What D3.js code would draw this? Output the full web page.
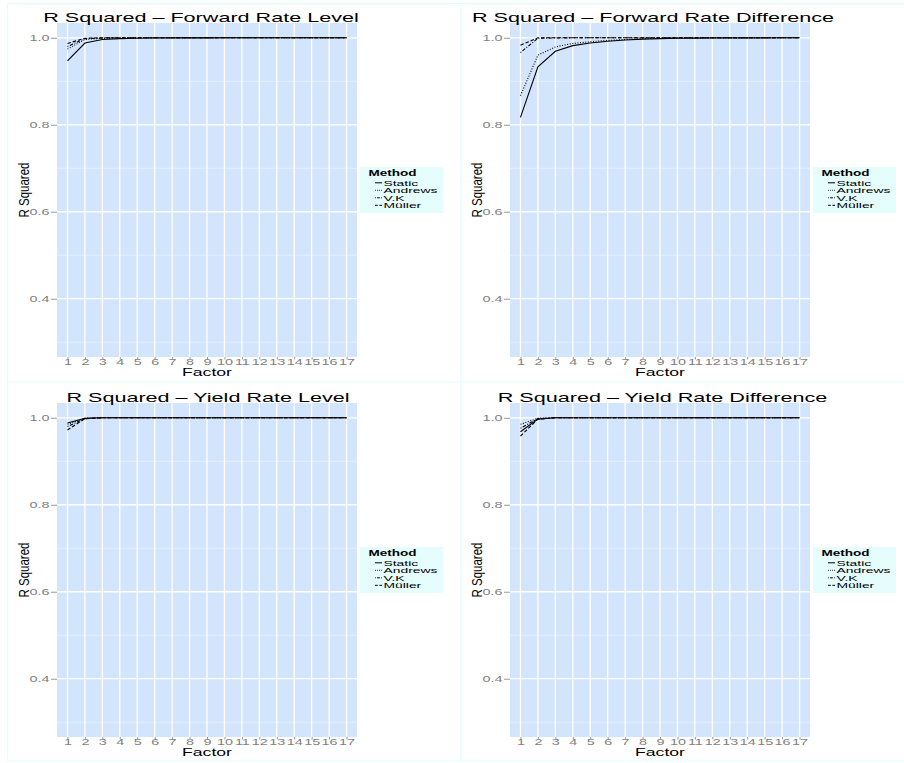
<!DOCTYPE html>
<html>
<head>
<meta charset="utf-8">
<script src="https://cdn.jsdelivr.net/npm/d3@7"></script>
<style>
  html, body { margin: 0; padding: 0; background: #ffffff; }
  svg { display: block; }
  text { font-family: "Liberation Sans", Arial, Helvetica, sans-serif; }
</style>
</head>
<body>
<svg id="chart" width="904" height="763"></svg>
<script>
// ---- data ----
const factorLabels = ["1","2","3","4","5","6","7","8","9","10","11","12","13","14","15","16","17"];
const methods = ["Static", "Andrews", "V.K", "Müller"];
const panelTitles = [
  "R Squared – Forward Rate Level",
  "R Squared – Forward Rate Difference",
  "R Squared – Yield Rate Level",
  "R Squared – Yield Rate Difference"
];
const yTicks = [0.4, 0.6, 0.8, 1.0];
const yMinorTicks = [0.3, 0.5, 0.7, 0.9];

// Forward rate level
const fwdLevelStatic  = [0.947, 0.988, 0.996, 0.998, 0.999, 0.9995, 0.9997, 0.9998, 0.9999, 1, 1, 1, 1, 1, 1, 1, 1];
const fwdLevelAndrews = [0.974, 0.996, 0.999, 0.9995, 1, 1, 1, 1, 1, 1, 1, 1, 1, 1, 1, 1, 1];
const fwdLevelVK      = [0.980, 0.998, 0.9995, 1, 1, 1, 1, 1, 1, 1, 1, 1, 1, 1, 1, 1, 1];
const fwdLevelMuller  = [0.987, 0.999, 1, 1, 1, 1, 1, 1, 1, 1, 1, 1, 1, 1, 1, 1, 1];

// Forward rate difference
const fwdDiffStatic  = [0.817, 0.933, 0.969, 0.982, 0.988, 0.992, 0.995, 0.997, 0.998, 0.999, 0.9993, 0.9995, 0.9997, 0.9998, 0.9999, 1, 1];
const fwdDiffAndrews = [0.867, 0.960, 0.979, 0.987, 0.991, 0.994, 0.996, 0.998, 0.999, 0.9993, 0.9995, 0.9997, 0.9998, 0.9999, 1, 1, 1];
const fwdDiffVK      = [0.966, 0.999, 0.9995, 1, 1, 1, 1, 1, 1, 1, 1, 1, 1, 1, 1, 1, 1];
const fwdDiffMuller  = [0.983, 1.000, 1, 1, 1, 1, 1, 1, 1, 1, 1, 1, 1, 1, 1, 1, 1];

// Yield rate level
const yldLevelStatic  = [0.988, 0.999, 1, 1, 1, 1, 1, 1, 1, 1, 1, 1, 1, 1, 1, 1, 1];
const yldLevelAndrews = [0.985, 0.999, 1, 1, 1, 1, 1, 1, 1, 1, 1, 1, 1, 1, 1, 1, 1];
const yldLevelVK      = [0.980, 0.998, 1, 1, 1, 1, 1, 1, 1, 1, 1, 1, 1, 1, 1, 1, 1];
const yldLevelMuller  = [0.972, 0.998, 1, 1, 1, 1, 1, 1, 1, 1, 1, 1, 1, 1, 1, 1, 1];

// Yield rate difference
const yldDiffStatic  = [0.968, 0.997, 1, 1, 1, 1, 1, 1, 1, 1, 1, 1, 1, 1, 1, 1, 1];
const yldDiffAndrews = [0.985, 0.999, 1, 1, 1, 1, 1, 1, 1, 1, 1, 1, 1, 1, 1, 1, 1];
const yldDiffVK      = [0.976, 0.998, 1, 1, 1, 1, 1, 1, 1, 1, 1, 1, 1, 1, 1, 1, 1];
const yldDiffMuller  = [0.958, 0.997, 1, 1, 1, 1, 1, 1, 1, 1, 1, 1, 1, 1, 1, 1, 1];

const panelSeries = [
  [fwdLevelStatic, fwdLevelAndrews, fwdLevelVK, fwdLevelMuller],
  [fwdDiffStatic, fwdDiffAndrews, fwdDiffVK, fwdDiffMuller],
  [yldLevelStatic, yldLevelAndrews, yldLevelVK, yldLevelMuller],
  [yldDiffStatic, yldDiffAndrews, yldDiffVK, yldDiffMuller]
];

// ---- styling / layout ----
const dashes = { "Static": null, "Andrews": "1,1.6", "V.K": "1,1.6,3.5,1.6", "Müller": "3.5,2" };
const panelBg = "#d3e4fd";
const tickGrey = "#7f7f7f";
const borderCol = "#e2fdfd";
const legendBg = "#e6fdfd";
const SX = 1.6;                    // horizontal stretch applied to text glyphs
const colStep = 453, rowStep = 380;
const plot = { left: 57, right: 357, top: 23, bottom: 357 };
const titleCenters = [201, 200, 208, 209.5];

const svg = d3.select("#chart");
svg.append("rect").attr("width", 904).attr("height", 763).attr("fill", "#ffffff");

// frame lines between panels
const frame = svg.append("g").attr("stroke", borderCol).attr("stroke-width", 1.2);
[7.5, 461].forEach(x => frame.append("line").attr("x1", x).attr("x2", x).attr("y1", 3).attr("y2", 761));
[3.5, 382, 761].forEach(y => frame.append("line").attr("x1", 7).attr("x2", 904).attr("y1", y).attr("y2", y));

const x = d3.scalePoint().domain(factorLabels).range([plot.left, plot.right]).padding(0.6);
const y = d3.scaleLinear().domain([0.266, 1.034]).range([plot.bottom, plot.top]);

const line = d3.line()
  .x((d, i) => x(factorLabels[i]))
  .y(d => y(d));

panelSeries.forEach((series, p) => {
  const col = p % 2, row = Math.floor(p / 2);
  const g = svg.append("g").attr("transform", `translate(${col * colStep},${row * rowStep})`);

  // plot background
  g.append("rect")
    .attr("x", plot.left).attr("y", plot.top)
    .attr("width", plot.right - plot.left).attr("height", plot.bottom - plot.top)
    .attr("fill", panelBg);

  // grid
  g.append("g").selectAll("line").data(yMinorTicks).join("line")
    .attr("x1", plot.left).attr("x2", plot.right)
    .attr("y1", d => y(d)).attr("y2", d => y(d))
    .attr("stroke", "#eef4ff").attr("stroke-width", 0.7);
  g.append("g").selectAll("line").data(yTicks).join("line")
    .attr("x1", plot.left).attr("x2", plot.right)
    .attr("y1", d => y(d)).attr("y2", d => y(d))
    .attr("stroke", "#ffffff").attr("stroke-width", 1.3);
  g.append("g").selectAll("line").data(factorLabels).join("line")
    .attr("x1", d => x(d)).attr("x2", d => x(d))
    .attr("y1", plot.top).attr("y2", plot.bottom)
    .attr("stroke", "#ffffff").attr("stroke-width", 1.3);

  // series lines
  series.forEach((vals, k) => {
    g.append("path")
      .datum(vals)
      .attr("d", line)
      .attr("fill", "none")
      .attr("stroke", "#000000")
      .attr("stroke-width", 1.1)
      .attr("stroke-dasharray", dashes[methods[k]]);
  });

  // y axis
  const yAxis = g.append("g")
    .attr("transform", `translate(${plot.left},0)`)
    .call(d3.axisLeft(y).tickValues(yTicks).tickFormat(d3.format(".1f")).tickSize(6).tickPadding(1.5));
  yAxis.select(".domain").remove();
  yAxis.selectAll(".tick line").attr("stroke", tickGrey).attr("stroke-width", 0.8);
  yAxis.selectAll(".tick text")
    .attr("fill", tickGrey).attr("font-size", 9).attr("font-family", null)
    .attr("x", -7.5 / SX).attr("transform", `scale(${SX},1)`);

  // x axis
  const xAxis = g.append("g")
    .attr("transform", `translate(0,${plot.bottom})`)
    .call(d3.axisBottom(x).tickSize(2.5).tickPadding(0));
  xAxis.select(".domain").remove();
  xAxis.selectAll(".tick line").attr("stroke", tickGrey).attr("stroke-width", 0.8);
  xAxis.selectAll(".tick text")
    .attr("fill", tickGrey).attr("font-size", 9).attr("font-family", null)
    .attr("y", 1.5).attr("transform", `scale(${SX},1)`);

  // axis titles
  g.append("text")
    .attr("transform", `translate(${(plot.left + plot.right) / 2},376) scale(${SX},1)`)
    .attr("text-anchor", "middle").attr("font-size", 11).attr("fill", "#000")
    .text("Factor");
  g.append("text")
    .attr("transform", `translate(29,${(plot.top + plot.bottom) / 2}) scale(1.25,1) rotate(-90)`)
    .attr("text-anchor", "middle").attr("font-size", 11.5).attr("fill", "#000")
    .text("R Squared");

  // panel title
  g.append("text")
    .attr("transform", `translate(${titleCenters[p]},21.5) scale(${SX},1)`)
    .attr("text-anchor", "middle").attr("font-size", 13.5).attr("fill", "#000")
    .text(panelTitles[p]);

  // legend
  const lg = g.append("g").attr("transform", "translate(360,167)");
  lg.append("rect").attr("width", 83).attr("height", 46).attr("fill", legendBg);
  lg.append("text")
    .attr("transform", `translate(8.5,8.6) scale(1.65,1)`)
    .attr("font-size", 8.2).attr("font-weight", "bold").attr("fill", "#000")
    .text("Method");
  methods.forEach((m, k) => {
    const cy = 15.8 + k * 7.5;
    lg.append("line")
      .attr("x1", 15).attr("x2", 22).attr("y1", cy).attr("y2", cy)
      .attr("stroke", "#000").attr("stroke-width", 1)
      .attr("stroke-dasharray", dashes[m] ? dashes[m].split(",").map(v => +v * 0.8).join(",") : null);
    lg.append("text")
      .attr("transform", `translate(23.5,${cy + 2.8}) scale(1.85,1)`)
      .attr("font-size", 7.5).attr("fill", "#000")
      .text(m);
  });
});
</script>
</body>
</html>
